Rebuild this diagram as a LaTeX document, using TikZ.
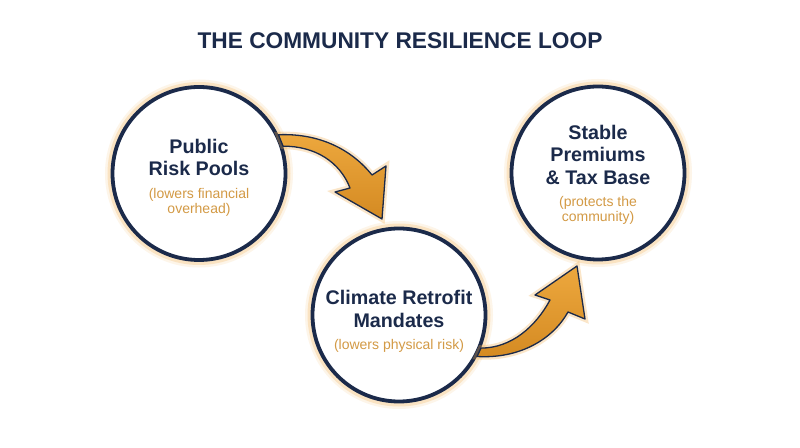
\documentclass[tikz,border=0pt]{standalone}
\usepackage{fontspec}
\setmainfont{Liberation Sans}
\usepackage{xcolor}
\usepackage{tikz}
\usetikzlibrary{positioning,calc}

\definecolor{navy}{HTML}{1B2A4A}
\definecolor{subtan}{HTML}{D39A45}
\definecolor{glow}{HTML}{F2AE4E}
\definecolor{arrowlight}{HTML}{EDA83E}
\definecolor{arrowdark}{HTML}{D48A22}

\begin{document}
\begin{tikzpicture}[
            x=1pt, y=1pt,
            ring/.style={circle, draw=navy, line width=3.8pt, fill=white, minimum size=173pt, inner sep=0pt,
                preaction={draw=glow, line width=15pt, draw opacity=0.12},
                preaction={draw=glow, line width=10pt, draw opacity=0.25}},
            title/.style={font=\bfseries\fontsize{22.7}{27}\selectfont, text=navy, inner sep=0pt},
            mainlbl/.style={align=center, inner sep=0pt, text=navy, font=\bfseries\fontsize{19.7}{22.5}\selectfont},
            sublbl/.style={align=center, inner sep=0pt, text=subtan, font=\fontsize{14}{15.5}\selectfont},
            bigarrow/.style={draw=navy, line width=1.3pt, line join=round, top color=arrowlight, bottom color=arrowdark,
                preaction={draw=glow, line width=6pt, draw opacity=0.3}}
        ]
            \fill[white] (0,0) rectangle (800,447);
            \useasboundingbox (0,0) rectangle (800,447);

            % --- TITLE ---
            \node[title, anchor=base] (title) at (400,398.7) {THE COMMUNITY RESILIENCE LOOP};

            % --- THE THREE STAGES ---
            \node[ring] (pools) at (199,273.5) {};
            \node[ring] (retrofit) at (399,132) {};
            \node[ring] (stable) at (598,274) {};

            \node[mainlbl] (pools_txt) at ([yshift=16pt]pools.center) {Public\\Risk Pools};
            \node[sublbl, below=11.5pt of pools_txt] (pools_sub) {(lowers financial\\overhead)};

            \node[mainlbl] (retrofit_txt) at ([yshift=6pt]retrofit.center) {Climate Retrofit\\Mandates};
            \node[sublbl, below=11.5pt of retrofit_txt] (retrofit_sub) {(lowers physical risk)};

            \node[mainlbl] (stable_txt) at ([yshift=18.5pt]stable.center) {Stable\\Premiums\\\& Tax Base};
            \node[sublbl, below=11.5pt of stable_txt] (stable_sub) {(protects the\\community)};

            % --- CURVED ARROWS ---
            \coordinate (tip1) at (382,228);
            \coordinate (tip2) at (577,181);

            % pools -> retrofit
            \draw[bigarrow] (pools.26) .. controls (320,314) and (352,297) .. (372,272)
                -- (386,281) -- (tip1) -- (335,255) -- (350,259)
                .. controls (340,285) and (315,301) .. (pools.18) -- cycle;

            % retrofit -> stable
            \draw[bigarrow] (retrofit.-28) .. controls (520,88) and (553,108) .. (568,135)
                -- (585,128) -- (tip2) -- (535,152) -- (550,147)
                .. controls (536,121) and (512,99) .. (retrofit.-22) -- cycle;

        \end{tikzpicture}
\end{document}
